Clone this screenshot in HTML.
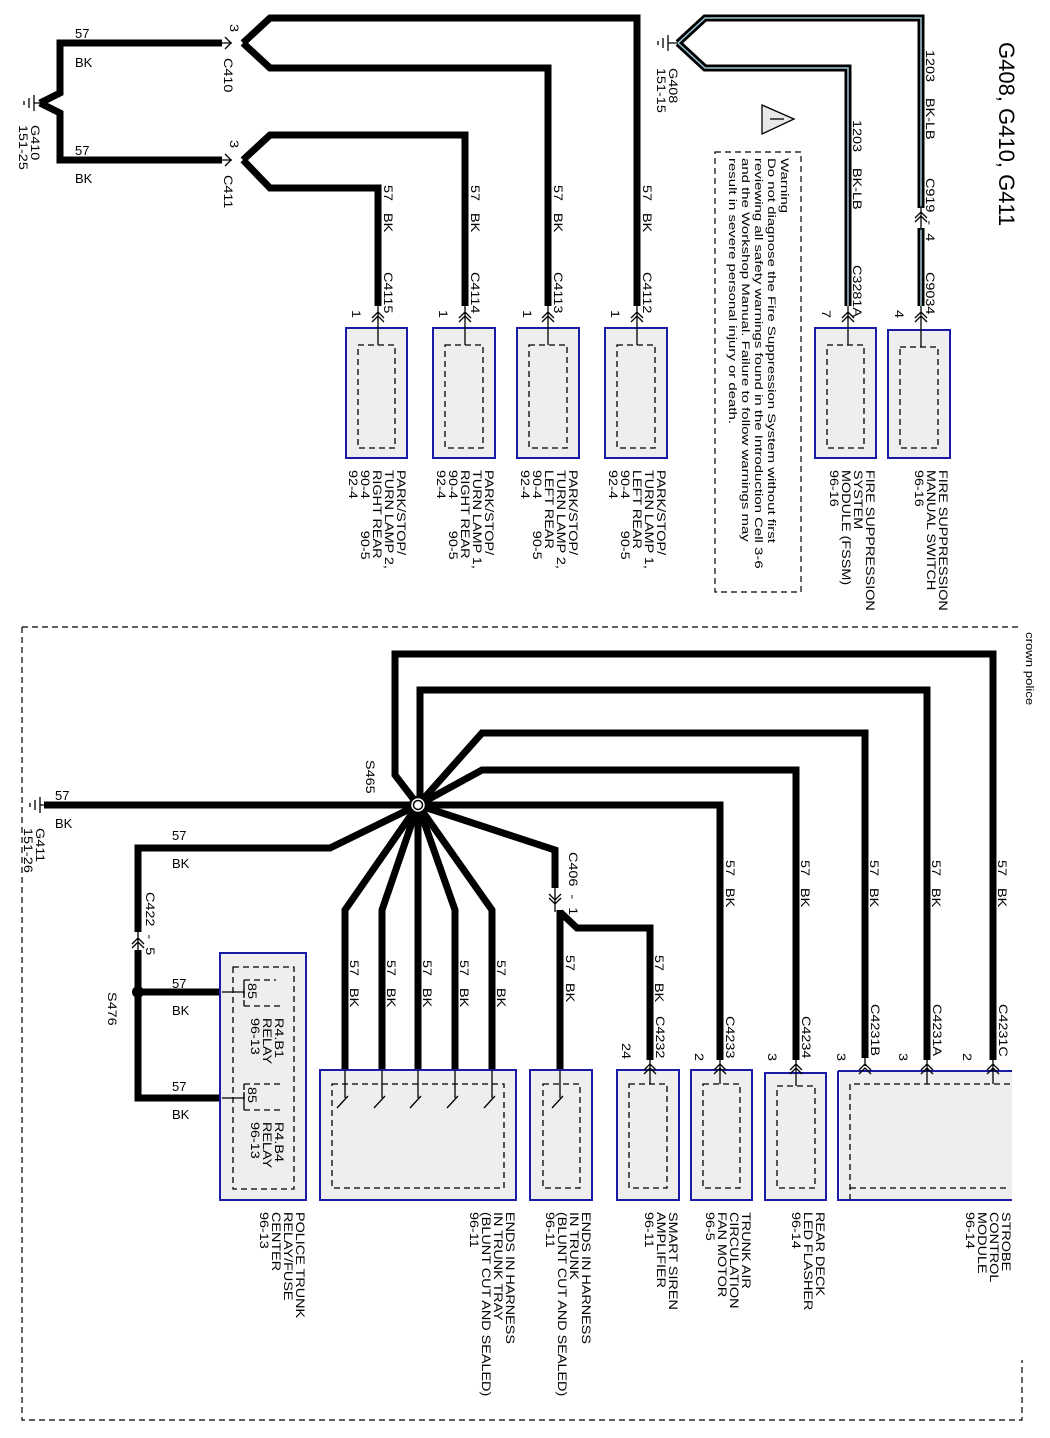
<!DOCTYPE html>
<html><head><meta charset="utf-8"><style>
html,body{margin:0;padding:0;background:#fff;}
svg{display:block;font-family:"Liberation Sans",Arial,sans-serif;}
text{fill:#000;white-space:pre;}
.w{stroke:#000;stroke-width:7;fill:none;stroke-linejoin:miter;}
.t{stroke:#000;stroke-width:1.3;fill:none;}
.box{fill:#eeeeee;stroke:#1a1aa8;stroke-width:2;}
.in{fill:none;stroke:#000;stroke-width:1.3;stroke-dasharray:6,4;}
.s11{font-size:11px;}
.s12{font-size:12px;}
.s13{font-size:13px;}
</style></head><body>
<svg width="1050" height="1438" viewBox="0 0 1050 1438" xmlns="http://www.w3.org/2000/svg">
<!-- ===== TOP ===== -->
<path class="t" d="M34 95 V111 M29 98 V108 M24 101 V105 M34 103 H42"/>
<text class="s12" transform="translate(31,125) rotate(90) scale(1.2,1)">G410<tspan x="0" dy="12">151-25</tspan></text>
<path class="w" d="M40 103 L60 93 V43 H222 M40 103 L60 113 V160 H222"/>
<text class="s13" x="75" y="38">57</text><text class="s13" x="75" y="67">BK</text>
<text class="s13" x="75" y="155">57</text><text class="s13" x="75" y="183">BK</text>
<path class="t" d="M222 43 H232 M225 37 L231 43 L225 49 M222 160 H232 M225 154 L231 160 L225 166"/>
<text class="s12" transform="translate(230,24) rotate(90) scale(1.2,1)">3</text>
<text class="s12" transform="translate(224,58) rotate(90) scale(1.2,1)">C410</text>
<text class="s12" transform="translate(230,140) rotate(90) scale(1.2,1)">3</text>
<text class="s12" transform="translate(224,175) rotate(90) scale(1.2,1)">C411</text>
<path class="w" d="M243 43 L270 18 H637 V306 M243 43 L270 68 H548 V306"/>
<path class="w" d="M243 160 L270 135 H465 V306 M243 160 L270 188 H378 V306"/>
<!-- G408 -->
<path class="t" d="M668 35 V51 M663 38 V48 M658 41 V45 M668 43 H680"/>
<text class="s12" transform="translate(669,68) rotate(90) scale(1.2,1)">G408<tspan x="0" dy="12">151-15</tspan></text>
<path d="M678 43 L705 18 H921 V208 M678 43 L705 68 H848 V306" stroke="#000" stroke-width="7" fill="none"/>
<path d="M678 43 L705 18 H921 V208 M678 43 L705 68 H848 V306" stroke="#9cc8d8" stroke-width="1.5" fill="none"/>
<path d="M921 228 V306" stroke="#000" stroke-width="7"/>
<path d="M921 228 V306" stroke="#9cc8d8" stroke-width="1.5"/>
<path class="t" d="M921 206 V230 M915 222 L921 216 L927 222 M915 218 L921 212 L927 218"/>
<text class="s12" transform="translate(926,50) rotate(90) scale(1.2,1)">1203    BK-LB</text>
<text class="s12" transform="translate(853,120) rotate(90) scale(1.2,1)">1203    BK-LB</text>
<text class="s12" transform="translate(926,178) rotate(90) scale(1.2,1)">C919  -  4</text>
<text class="s12" transform="translate(926,272) rotate(90) scale(1.2,1)">C9034</text>
<text class="s12" transform="translate(853,265) rotate(90) scale(1.2,1)">C3281A</text>
<text style="font-size:22px" transform="translate(999,42) rotate(90)">G408, G410, G411</text>
<!-- warning -->
<polygon points="762,105 762,134 794,119" fill="#e8e8e8" stroke="#000" stroke-width="1.3"/>
<path class="t" d="M770 119 H784" />
<rect x="715" y="152" width="86" height="440" fill="none" stroke="#000" stroke-width="1.2" stroke-dasharray="6,4"/>
<text class="s11" transform="translate(781,158) rotate(90) scale(1.36,1)">Warning<tspan x="0" dy="13">Do not diagnose the Fire Suppression System without first</tspan><tspan x="0" dy="13">reviewing all safety warnings found in the Introduction Cell 3-6</tspan><tspan x="0" dy="13">and the Workshop Manual. Failure to follow warnings may</tspan><tspan x="0" dy="13">result in severe personal injury or death.</tspan></text>

<g>
<rect class="box" x="346" y="328" width="61" height="130"/><rect class="in" x="358" y="345" width="37" height="103"/>
<rect class="box" x="433" y="328" width="62" height="130"/><rect class="in" x="445" y="345" width="38" height="103"/>
<rect class="box" x="517" y="328" width="62" height="130"/><rect class="in" x="529" y="345" width="38" height="103"/>
<rect class="box" x="605" y="328" width="62" height="130"/><rect class="in" x="617" y="345" width="38" height="103"/>
<rect class="box" x="815" y="328" width="61" height="130"/><rect class="in" x="827" y="345" width="37" height="103"/>
<rect class="box" x="888" y="330" width="62" height="128"/><rect class="in" x="900" y="347" width="38" height="101"/>
</g>
<g class="t">
<path d="M378 306 V345 M372 318 L378 312 L384 318 M372 322 L378 316 L384 322"/>
<path d="M465 306 V345 M459 318 L465 312 L471 318 M459 322 L465 316 L471 322"/>
<path d="M548 306 V345 M542 318 L548 312 L554 318 M542 322 L548 316 L554 322"/>
<path d="M637 306 V345 M631 318 L637 312 L643 318 M631 322 L637 316 L643 322"/>
<path d="M848 306 V345 M842 318 L848 312 L854 318 M842 322 L848 316 L854 322"/>
<path d="M921 306 V347 M915 318 L921 312 L927 318 M915 322 L921 316 L927 322"/>
</g>
<text class="s12" transform="translate(384,185) rotate(90) scale(1.2,1)">57   BK</text>
<text class="s12" transform="translate(471,185) rotate(90) scale(1.2,1)">57   BK</text>
<text class="s12" transform="translate(554,185) rotate(90) scale(1.2,1)">57   BK</text>
<text class="s12" transform="translate(643,185) rotate(90) scale(1.2,1)">57   BK</text>
<text class="s12" transform="translate(384,272) rotate(90) scale(1.2,1)">C4115</text>
<text class="s12" transform="translate(471,272) rotate(90) scale(1.2,1)">C4114</text>
<text class="s12" transform="translate(554,272) rotate(90) scale(1.2,1)">C4113</text>
<text class="s12" transform="translate(643,272) rotate(90) scale(1.2,1)">C4112</text>
<text class="s12" transform="translate(352,310) rotate(90) scale(1.2,1)">1</text>
<text class="s12" transform="translate(439,310) rotate(90) scale(1.2,1)">1</text>
<text class="s12" transform="translate(523,310) rotate(90) scale(1.2,1)">1</text>
<text class="s12" transform="translate(611,310) rotate(90) scale(1.2,1)">1</text>
<text class="s12" transform="translate(822,310) rotate(90) scale(1.2,1)">7</text>
<text class="s12" transform="translate(895,310) rotate(90) scale(1.2,1)">4</text>
<text class="s12" transform="translate(397,470) rotate(90) scale(1.2,1)">PARK/STOP/<tspan x="0" dy="12">TURN LAMP 2,</tspan><tspan x="0" dy="12">RIGHT REAR</tspan><tspan x="0" dy="12">90-4        90-5</tspan><tspan x="0" dy="12">92-4</tspan></text>
<text class="s12" transform="translate(485,470) rotate(90) scale(1.2,1)">PARK/STOP/<tspan x="0" dy="12">TURN LAMP 1,</tspan><tspan x="0" dy="12">RIGHT REAR</tspan><tspan x="0" dy="12">90-4        90-5</tspan><tspan x="0" dy="12">92-4</tspan></text>
<text class="s12" transform="translate(569,470) rotate(90) scale(1.2,1)">PARK/STOP/<tspan x="0" dy="12">TURN LAMP 2,</tspan><tspan x="0" dy="12">LEFT REAR</tspan><tspan x="0" dy="12">90-4        90-5</tspan><tspan x="0" dy="12">92-4</tspan></text>
<text class="s12" transform="translate(657,470) rotate(90) scale(1.2,1)">PARK/STOP/<tspan x="0" dy="12">TURN LAMP 1,</tspan><tspan x="0" dy="12">LEFT REAR</tspan><tspan x="0" dy="12">90-4        90-5</tspan><tspan x="0" dy="12">92-4</tspan></text>
<text class="s12" transform="translate(866,470) rotate(90) scale(1.2,1)">FIRE SUPPRESSION<tspan x="0" dy="12">SYSTEM</tspan><tspan x="0" dy="12">MODULE (FSSM)</tspan><tspan x="0" dy="12">96-16</tspan></text>
<text class="s12" transform="translate(939,470) rotate(90) scale(1.2,1)">FIRE SUPPRESSION<tspan x="0" dy="12">MANUAL SWITCH</tspan><tspan x="0" dy="12">96-16</tspan></text>

<!-- ===== BOTTOM ===== -->
<path d="M22 627 H1022 M22 627 V1420 H1022 V1360" fill="none" stroke="#000" stroke-width="1.2" stroke-dasharray="6,4"/>
<text class="s11" transform="translate(1026,632) rotate(90) scale(1.2,1)">crown police</text>
<path class="t" d="M40 797 V813 M35 800 V810 M30 803 V807 M40 805 H44"/>
<text class="s12" transform="translate(36,828) rotate(90) scale(1.2,1)">G411<tspan x="0" dy="12">151-26</tspan></text>
<text class="s13" x="55" y="800">57</text><text class="s13" x="55" y="828">BK</text>
<path class="w" d="M44 805 H418"/>
<path class="w" d="M418 805 L395 775 V654 H993 V1060"/>
<path class="w" d="M418 805 L420 800 V690 H927 V1060"/>
<path class="w" d="M418 805 L482 733 H865 V1058"/>
<path class="w" d="M418 805 L482 770 H796 V1060"/>
<path class="w" d="M418 805 H720 V1060"/>
<path class="w" d="M418 805 L555 850 V888"/>
<path class="w" d="M560 912 L577 928 H650 V1060"/>
<path class="w" d="M560 910 V1072"/>
<path class="w" d="M418 805 L345 910 V1072 M418 805 L382 910 V1072 M418 805 V1072 M418 805 L455 910 V1072 M418 805 L492 910 V1072"/>
<path class="w" d="M418 805 L330 848 H138 V932"/>
<path class="w" d="M138 950 V1098 H222 M138 992 H222"/>
<circle cx="138" cy="992" r="6" fill="#000"/>
<circle cx="418" cy="805" r="8" fill="#fff" stroke="#000" stroke-width="2.5"/>
<circle cx="418" cy="805" r="4.5" fill="none" stroke="#000" stroke-width="1.5"/>
<text class="s12" transform="translate(366,760) rotate(90) scale(1.2,1)">S465</text>
<text class="s13" x="172" y="840">57</text><text class="s13" x="172" y="868">BK</text>
<text class="s13" x="172" y="988">57</text><text class="s13" x="172" y="1015">BK</text>
<text class="s13" x="172" y="1091">57</text><text class="s13" x="172" y="1119">BK</text>
<text class="s12" transform="translate(108,992) rotate(90) scale(1.2,1)">S476</text>
<text class="s12" transform="translate(146,892) rotate(90) scale(1.2,1)">C422  -  5</text>
<path class="t" d="M138 930 V952 M132 944 L138 938 L144 944 M132 948 L138 942 L144 948"/>
<path class="t" d="M555 886 V912 M549 894 L555 900 L561 894 M549 898 L555 904 L561 898"/>
<text class="s12" transform="translate(569,852) rotate(90) scale(1.2,1)">C406  -  1</text>
<!-- relay box -->
<rect class="box" x="220" y="953" width="86" height="247"/>
<rect class="in" x="233" y="967" width="61" height="222"/>
<path class="t" d="M222 992 H244 M244 986 V998 M222 1098 H244 M244 1092 V1104"/>
<path class="in" d="M244 980 H276 M244 1006 H280 M244 1084 H280 M244 1110 H280 M244 980 V1006 M244 1084 V1110"/>
<text class="s12" transform="translate(248,983) rotate(90) scale(1.2,1)">85</text>
<text class="s12" transform="translate(248,1087) rotate(90) scale(1.2,1)">85</text>
<text class="s12" transform="translate(275,1018) rotate(90) scale(1.2,1)">R4.B1<tspan x="0" dy="12">RELAY</tspan><tspan x="0" dy="12">96-13</tspan></text>
<text class="s12" transform="translate(275,1122) rotate(90) scale(1.2,1)">R4.B4<tspan x="0" dy="12">RELAY</tspan><tspan x="0" dy="12">96-13</tspan></text>
<rect class="box" x="320" y="1070" width="196" height="130"/><rect class="in" x="332" y="1084" width="172" height="104"/>
<rect class="box" x="530" y="1070" width="62" height="130"/><rect class="in" x="543" y="1084" width="37" height="104"/>
<rect class="box" x="617" y="1070" width="62" height="130"/><rect class="in" x="629" y="1084" width="38" height="104"/>
<rect class="box" x="691" y="1070" width="61" height="130"/><rect class="in" x="703" y="1084" width="37" height="104"/>
<rect class="box" x="765" y="1073" width="61" height="127"/><rect class="in" x="777" y="1086" width="38" height="102"/>
<rect x="840" y="1072" width="172" height="127" fill="#eee"/>
<path d="M850 1200 V1084 H1010 M850 1188 H1010" class="in"/>
<path d="M838 1071 H1012 M838 1071 V1200 H1012" fill="none" stroke="#1a1aa8" stroke-width="2"/>
<path class="t" d="M345 1070 V1098 M337 1108 L348 1096 M382 1070 V1098 M374 1108 L385 1096 M418 1070 V1098 M410 1108 L421 1096 M455 1070 V1098 M447 1108 L458 1096 M492 1070 V1098 M484 1108 L495 1096 M560 1070 V1098 M552 1108 L563 1096"/>
<g class="t">
<path d="M650 1058 V1084 M644 1070 L650 1064 L656 1070 M644 1074 L650 1068 L656 1074"/>
<path d="M720 1058 V1084 M714 1070 L720 1064 L726 1070 M714 1074 L720 1068 L726 1074"/>
<path d="M796 1058 V1086 M790 1070 L796 1064 L802 1070 M790 1074 L796 1068 L802 1074"/>
<path d="M865 1058 V1066 M859 1070 L865 1064 L871 1070 M859 1074 L865 1068 L871 1074"/>
<path d="M927 1058 V1084 M921 1070 L927 1064 L933 1070 M921 1074 L927 1068 L933 1074"/>
<path d="M993 1058 V1084 M987 1070 L993 1064 L999 1070 M987 1074 L993 1068 L999 1074"/>
</g>
<text class="s12" transform="translate(622,1043) rotate(90) scale(1.2,1)">24</text>
<text class="s12" transform="translate(695,1053) rotate(90) scale(1.2,1)">2</text>
<text class="s12" transform="translate(768,1053) rotate(90) scale(1.2,1)">3</text>
<text class="s12" transform="translate(837,1053) rotate(90) scale(1.2,1)">3</text>
<text class="s12" transform="translate(899,1053) rotate(90) scale(1.2,1)">3</text>
<text class="s12" transform="translate(963,1053) rotate(90) scale(1.2,1)">2</text>
<text class="s12" transform="translate(656,1016) rotate(90) scale(1.2,1)">C4232</text>
<text class="s12" transform="translate(726,1016) rotate(90) scale(1.2,1)">C4233</text>
<text class="s12" transform="translate(802,1016) rotate(90) scale(1.2,1)">C4234</text>
<text class="s12" transform="translate(871,1004) rotate(90) scale(1.2,1)">C4231B</text>
<text class="s12" transform="translate(933,1004) rotate(90) scale(1.2,1)">C4231A</text>
<text class="s12" transform="translate(999,1004) rotate(90) scale(1.2,1)">C4231C</text>
<text class="s12" transform="translate(350,960) rotate(90) scale(1.2,1)">57   BK</text>
<text class="s12" transform="translate(387,960) rotate(90) scale(1.2,1)">57   BK</text>
<text class="s12" transform="translate(423,960) rotate(90) scale(1.2,1)">57   BK</text>
<text class="s12" transform="translate(460,960) rotate(90) scale(1.2,1)">57   BK</text>
<text class="s12" transform="translate(497,960) rotate(90) scale(1.2,1)">57   BK</text>
<text class="s12" transform="translate(566,955) rotate(90) scale(1.2,1)">57   BK</text>
<text class="s12" transform="translate(655,955) rotate(90) scale(1.2,1)">57   BK</text>
<text class="s12" transform="translate(726,860) rotate(90) scale(1.2,1)">57   BK</text>
<text class="s12" transform="translate(801,860) rotate(90) scale(1.2,1)">57   BK</text>
<text class="s12" transform="translate(870,860) rotate(90) scale(1.2,1)">57   BK</text>
<text class="s12" transform="translate(932,860) rotate(90) scale(1.2,1)">57   BK</text>
<text class="s12" transform="translate(998,860) rotate(90) scale(1.2,1)">57   BK</text>
<text class="s12" transform="translate(296,1212) rotate(90) scale(1.2,1)">POLICE TRUNK<tspan x="0" dy="12">RELAY/FUSE</tspan><tspan x="0" dy="12">CENTER</tspan><tspan x="0" dy="12">96-13</tspan></text>
<text class="s12" transform="translate(506,1212) rotate(90) scale(1.2,1)">ENDS IN HARNESS<tspan x="0" dy="12">IN TRUNK TRAY</tspan><tspan x="0" dy="12">(BLUNT CUT AND SEALED)</tspan><tspan x="0" dy="12">96-11</tspan></text>
<text class="s12" transform="translate(582,1212) rotate(90) scale(1.2,1)">ENDS IN HARNESS<tspan x="0" dy="12">IN TRUNK</tspan><tspan x="0" dy="12">(BLUNT CUT AND SEALED)</tspan><tspan x="0" dy="12">96-11</tspan></text>
<text class="s12" transform="translate(669,1212) rotate(90) scale(1.2,1)">SMART SIREN<tspan x="0" dy="12">AMPLIFIER</tspan><tspan x="0" dy="12">96-11</tspan></text>
<text class="s12" transform="translate(742,1212) rotate(90) scale(1.2,1)">TRUNK AIR<tspan x="0" dy="12">CIRCULATION</tspan><tspan x="0" dy="12">FAN MOTOR</tspan><tspan x="0" dy="12">96-5</tspan></text>
<text class="s12" transform="translate(816,1212) rotate(90) scale(1.2,1)">REAR DECK<tspan x="0" dy="12">LED FLASHER</tspan><tspan x="0" dy="12">96-14</tspan></text>
<text class="s12" transform="translate(1002,1212) rotate(90) scale(1.2,1)">STROBE<tspan x="0" dy="12">CONTROL</tspan><tspan x="0" dy="12">MODULE</tspan><tspan x="0" dy="12">96-14</tspan></text>
</svg>
</body></html>
